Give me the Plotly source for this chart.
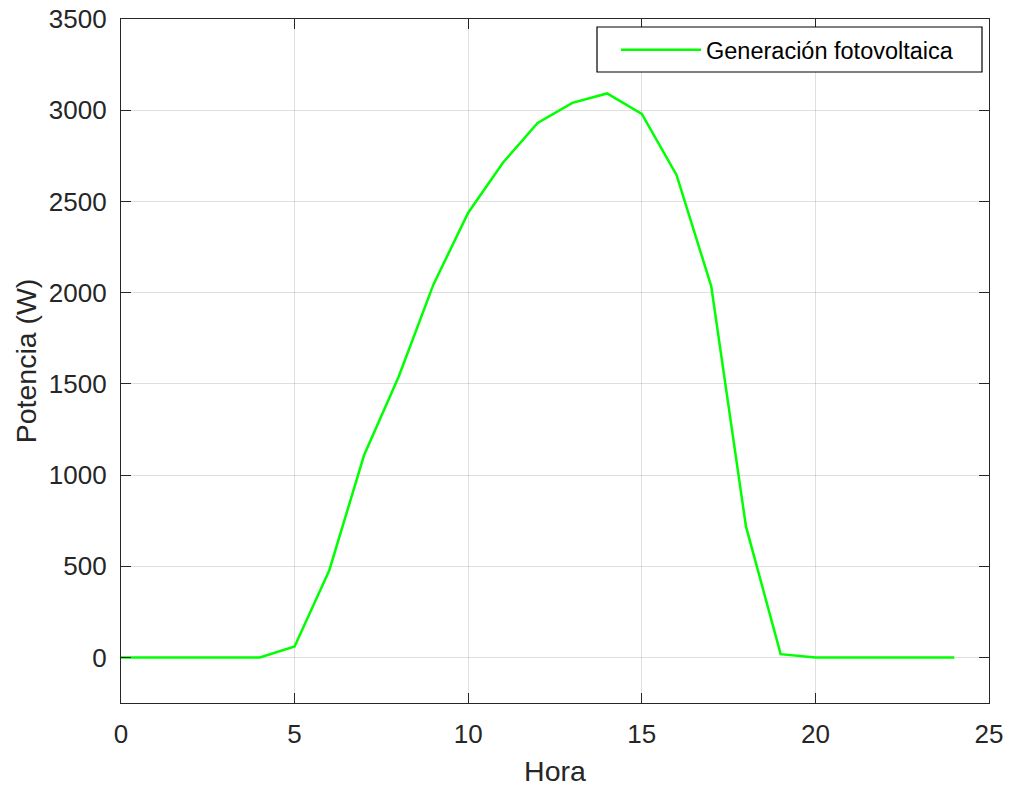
import plotly.graph_objects as go

hours = list(range(25))
power_w = [0, 0, 0, 0, 0, 60, 478, 1108, 1540, 2045, 2438, 2712, 2930, 3040, 3092,
           2980, 2645, 2035, 718, 18, 0, 0, 0, 0, 0]
series_name = "Generación fotovoltaica"
x_ticks = [0, 5, 10, 15, 20, 25]
y_ticks = [0, 500, 1000, 1500, 2000, 2500, 3000, 3500]

axis_color = "#262626"
grid_color = "rgba(38,38,38,0.15)"
font_family = "Liberation Sans, Arial, Helvetica, sans-serif"

# plot area in pixels (for converting legend box placement to paper coords)
L, R, T, B = 121, 989, 19, 703
PW, PH = R - L, B - T

fig = go.Figure()
fig.add_trace(go.Scatter(
    x=hours, y=power_w, mode="lines", name=series_name,
    line=dict(color="#00ff00", width=2.5),
))

axis_common = dict(
    showline=True, linecolor=axis_color, linewidth=1.2, mirror="ticks",
    ticks="inside", ticklen=10, tickwidth=1.2, tickcolor=axis_color,
    showgrid=True, gridcolor=grid_color, gridwidth=1,
    zeroline=False,
    tickfont=dict(family=font_family, size=26, color=axis_color),
    title_font=dict(family=font_family, size=28.5, color=axis_color),
)

fig.update_xaxes(
    range=[0, 25], tickvals=x_ticks, ticktext=[str(v) for v in x_ticks],
    title_text="Hora", title_standoff=14, ticklabelstandoff=8, **axis_common,
)
fig.update_yaxes(
    range=[-250, 3500], tickvals=y_ticks, ticktext=[str(v) for v in y_ticks],
    title_text="Potencia (W)", title_standoff=3, ticklabelstandoff=8, **axis_common,
)

# legend box (MATLAB style)
fig.add_shape(
    type="rect", xref="paper", yref="paper", layer="above",
    x0=(597 - L) / PW, x1=(982 - L) / PW,
    y0=(B - 72) / PH, y1=(B - 27) / PH,
    line=dict(color="#000000", width=1.2), fillcolor="white",
)

fig.update_layout(
    width=1011, height=787,
    margin=dict(l=L, r=1011 - R, t=T, b=787 - B, autoexpand=False),
    paper_bgcolor="white", plot_bgcolor="white",
    showlegend=True,
    legend=dict(
        x=(616 - L) / PW, y=(B - 28) / PH, xanchor="left", yanchor="top",
        bgcolor="rgba(0,0,0,0)", borderwidth=0,
        font=dict(family=font_family, size=23.5, color="#000000"),
        itemwidth=80,
    ),
)

fig.write_html("out.html")
